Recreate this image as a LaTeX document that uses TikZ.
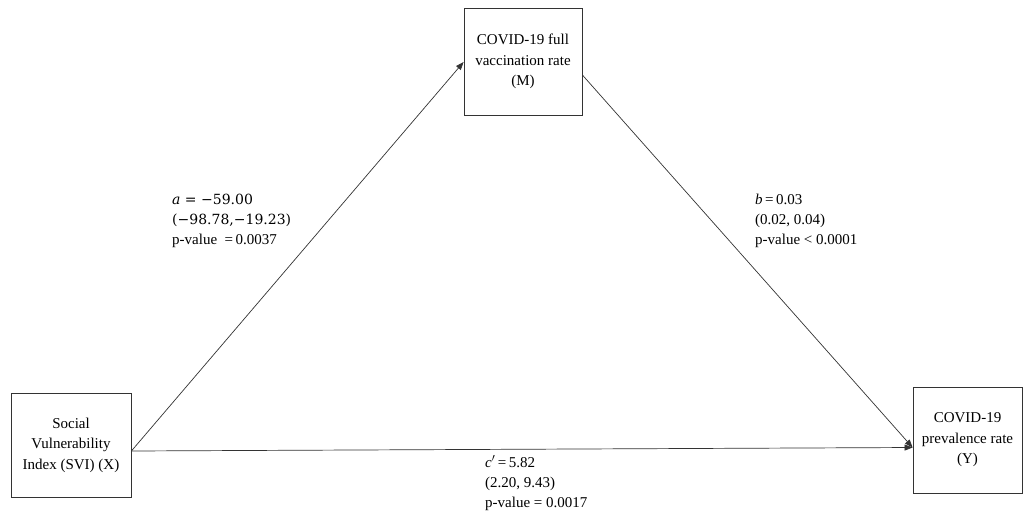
\documentclass[tikz,border=0pt]{standalone}
\usepackage{fontspec}
\setmainfont{Liberation Serif}
\newfontfamily\mathlike{DejaVu Serif}
\usetikzlibrary{arrows.meta}
\tikzset{
  box/.style={draw=black!80, line width=0.8pt, align=center, inner sep=0pt, font=\fontsize{15}{20.5}\selectfont},
  lbl/.style={align=left, anchor=west, inner sep=0pt, font=\fontsize{15}{20}\selectfont},
  arr/.style={draw=black!80, line width=0.7pt, -{Triangle[length=8pt,width=6pt]}}
}
\newcommand{\mathbig}[1]{{\mathlike\fontsize{14}{20}\selectfont #1}}
\begin{document}
\begin{tikzpicture}[x=1pt,y=-1pt]
\useasboundingbox (0,0) rectangle (1024,519);
\node[box, minimum width=120pt, minimum height=104pt] (X) at (71,445) {Social\\Vulnerability\\Index (SVI) (X)};
\node[box, minimum width=118pt, minimum height=107pt] (M) at (523,61.5) {COVID-19 full\\vaccination rate\\(M)};
\node[box, minimum width=109pt, minimum height=106pt] (Y) at (967.5,440) {COVID-19\\prevalence rate\\(Y)};
\coordinate (xo) at ([yshift=-6pt]X.east);
\coordinate (mi) at ([yshift=-0.5pt]M.west);
\coordinate (mo) at ([yshift=-13.5pt]M.east);
\coordinate (yi) at ([yshift=-7.5pt]Y.west);
\draw[arr] (xo) -- (mi);
\draw[arr] (mo) -- (yi);
\draw[arr] (xo) -- (yi);
\node[lbl] (la) at (172,221) {\mathbig{\textit{a} = −59.00}\\\mathbig{(−98.78,−19.23)}\\p-value \ =\,0.0037};
\node[lbl] (lb) at (755,221) {\textit{b}\,=\,0.03\\(0.02, 0.04)\\p-value < 0.0001};
\node[lbl] (lc) at (485,483) {\textit{c}$'$\,=\,5.82\\(2.20, 9.43)\\p-value = 0.0017};
\end{tikzpicture}
\end{document}
